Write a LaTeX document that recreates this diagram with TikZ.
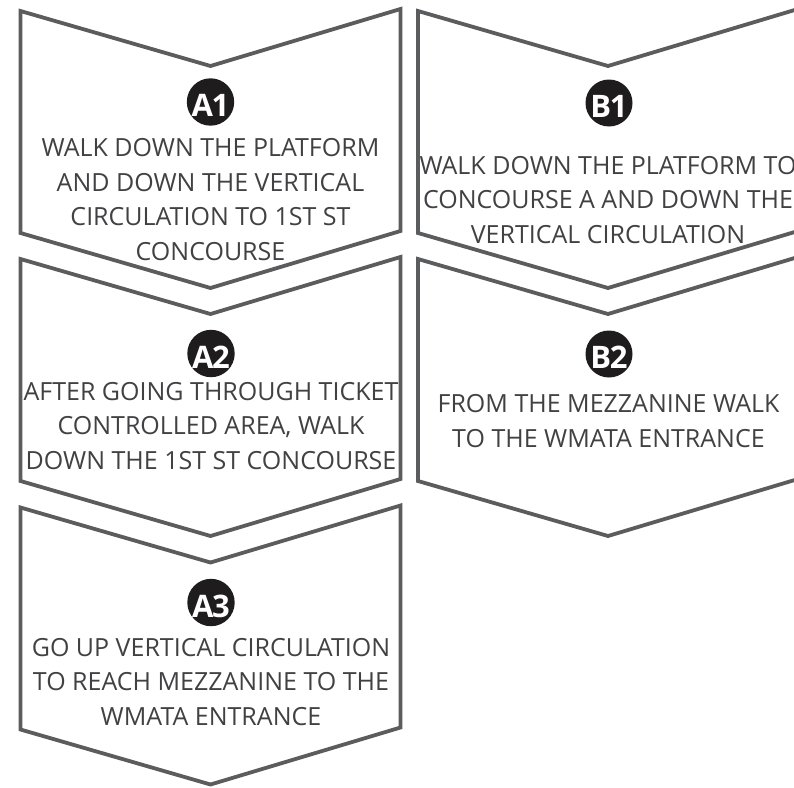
\documentclass[tikz,border=0pt]{standalone}
\usepackage{fontspec}
\setmainfont{Open Sans}
\definecolor{chevgray}{HTML}{5B5C5E}
\definecolor{txtgray}{HTML}{414042}
\definecolor{badgeblack}{HTML}{1E1C1D}
\begin{document}
\begin{tikzpicture}[x=1pt,y=-1pt,
  chevstroke/.style={draw=chevgray,line width=3.8pt,line join=miter},
  chevron/.pic={\draw[chevstroke] (-190,0) -- (0,55) -- (190,-2) -- (190,220) -- (0,277) -- (-190,222) -- cycle;},
  badge/.style={circle,fill=badgeblack,minimum size=47pt,inner sep=0pt,text=white,
    font=\fontsize{31}{31}\bfseries\selectfont,text height=29pt,text depth=0pt},
  steptext/.style={anchor=base,align=center,text=txtgray,inner sep=0pt,
    font=\fontsize{25}{34.5}\selectfont}]
\useasboundingbox (0,0) rectangle (794,787);
% chevrons
\pic at (210.5,11) {chevron};
\pic at (210.5,259) {chevron};
\pic at (210.5,507.5) {chevron};
\pic at (608,11) {chevron};
\pic at (608,259) {chevron};
% badges
\node[badge] (bA1) at (210.5,102) {A\kern-1.5pt1};
\node[badge] (bA2) at (211,353.5) {A\kern-1.5pt2};
\node[badge] (bA3) at (211,602.5) {A\kern-1.5pt3};
\node[badge] (bB1) at (609,103) {B\kern-1.5pt1};
\node[badge] (bB2) at (609,354) {B\kern-1.5pt2};
% texts (anchor base = baseline of the last line)
\node[steptext] (tA1) at (210.5,260) {WALK DOWN THE PLATFORM\\AND DOWN THE VERTICAL\\CIRCULATION TO 1ST ST\\CONCOURSE};
\node[steptext] (tA2) at (211,469) {AFTER GOING THROUGH TICKET\\CONTROLLED AREA, WALK\\DOWN THE 1ST ST CONCOURSE};
\node[steptext] (tA3) at (211,725) {GO UP VERTICAL CIRCULATION\\TO REACH MEZZANINE TO THE\\WMATA ENTRANCE};
\node[steptext] (tB1) at (608,243) {WALK DOWN THE PLATFORM TO\\CONCOURSE A AND DOWN THE\\VERTICAL CIRCULATION};
\node[steptext] (tB2) at (608.5,447) {FROM THE MEZZANINE WALK\\TO THE WMATA ENTRANCE};
\end{tikzpicture}
\end{document}
